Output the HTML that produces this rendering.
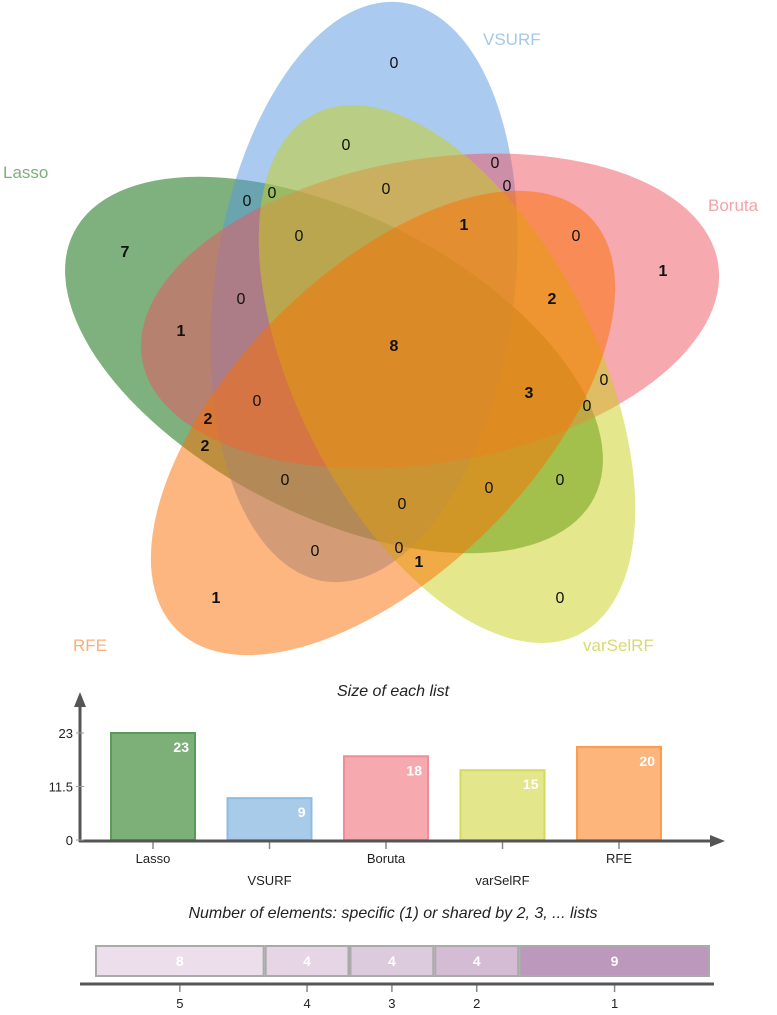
<!DOCTYPE html>
<html><head><meta charset="utf-8"><style>
body{margin:0;background:#fff;}
svg{display:block;font-family:"Liberation Sans",sans-serif;}
</style></head><body>
<svg width="777" height="1015" viewBox="0 0 777 1015">
<g id="venn">
  <ellipse cx="334" cy="365" rx="292" ry="150" transform="rotate(27 334 365)" fill="rgb(0,100,0)" fill-opacity="0.5"/>
  <ellipse cx="364" cy="292" rx="150" ry="292" transform="rotate(7.5 364 292)" fill="rgb(85,151,223)" fill-opacity="0.5"/>
  <ellipse cx="430" cy="311" rx="292" ry="152" transform="rotate(-9.5 430 311)" fill="rgb(237,83,95)" fill-opacity="0.5"/>
  <ellipse cx="447" cy="374" rx="150" ry="292" transform="rotate(-27 447 374)" fill="rgb(201,207,25)" fill-opacity="0.5"/>
  <ellipse cx="383" cy="423" rx="292" ry="150" transform="rotate(-45 383 423)" fill="rgb(251,110,0)" fill-opacity="0.5"/>
  <g font-size="17">
    <text x="3" y="178" fill="#7bb07a">Lasso</text>
    <text x="483" y="45" fill="#a5c8e8">VSURF</text>
    <text x="708" y="211" fill="#f3a3aa">Boruta</text>
    <text x="73" y="651" fill="#fcae74">RFE</text>
    <text x="583" y="651" fill="#d8db70">varSelRF</text>
  </g>
  <g id="counts" font-size="16" text-anchor="middle" fill="#111"></g>
</g>

<g>
  <text x="393" y="696" font-size="16" font-style="italic" text-anchor="middle" fill="#222">Size of each list</text>
  <g id="bars"></g>
  <line x1="80" y1="842" x2="80" y2="705" stroke="#555" stroke-width="3"/>
  <polygon points="74,707 86,707 80,692" fill="#555"/>
  <line x1="79" y1="841" x2="712" y2="841" stroke="#555" stroke-width="3"/>
  <polygon points="710,835 710,847 725,841" fill="#555"/>
  <g id="yticks" font-size="13" text-anchor="end" fill="#222"></g>
</g>

<g>
  <text x="393" y="918" font-size="16" font-style="italic" text-anchor="middle" fill="#222">Number of elements: specific (1) or shared by 2, 3, ... lists</text>
  <g id="segs"></g>
  <line x1="80" y1="984" x2="714" y2="984" stroke="#555" stroke-width="3"/>
</g>
</svg>
<script>
const NS='http://www.w3.org/2000/svg';
// Venn region counts
const regionLabels=['0','0','0','0','0','0','0','1','0','0','7','1','2','0','1','8','0','3','0','0','2','2','0','0','0','0','0','0','1','1','0'];
const regionBold=[0,0,0,0,0,0,0,1,0,0,1,1,1,0,1,1,0,1,0,0,1,1,0,0,0,0,0,0,1,1,0];
const regionX=[394,346,495,507,386,272,247,464,299,576,125,663,552,241,181,394,604,529,587,257,208,205,285,560,489,402,315,399,419,216,560];
const regionY=[62,144,162,185,188,192,200,224,235,235,251,270,298,298,330,345,379,392,405,400,418,445,479,479,487,503,550,547,561,597,597];
const cg=document.getElementById('counts');
for(let i=0;i<regionLabels.length;i++){
  const t=document.createElementNS(NS,'text');
  
  
  t.setAttribute('x',regionX[i]);t.setAttribute('y',regionY[i]+6);
  if(regionBold[i])t.setAttribute('font-weight','bold');
  t.textContent=regionLabels[i];cg.appendChild(t);
}
// Bar chart data
const categories=['Lasso','VSURF','Boruta','varSelRF','RFE'];
const sizes=[23,9,18,15,20];
const yTicks=[0,11.5,23];
const yTickLabels=['0','11.5','23'];
const fills=['#7daf79','#a8cbe9','#f6a9ae','#e4e68c','#fdb57b'];
const strokes=['#5a9c57','#8cbbe4','#f08d95','#d5d95c','#fb9c50'];
const y=v=>840-v*(107/23);
const xc=i=>153+i*116.5;
const bg=document.getElementById('bars');
categories.forEach((c,i)=>{
  const r=document.createElementNS(NS,'rect');
  
  
  r.setAttribute('x',xc(i)-42);r.setAttribute('width',84);
  r.setAttribute('y',y(sizes[i]));r.setAttribute('height',840-y(sizes[i]));
  r.setAttribute('fill',fills[i]);r.setAttribute('stroke',strokes[i]);r.setAttribute('stroke-width',2);
  bg.appendChild(r);
  const v=document.createElementNS(NS,'text');
  
  
  v.setAttribute('x',xc(i)+36);v.setAttribute('y',y(sizes[i])+19);
  v.setAttribute('text-anchor','end');v.setAttribute('fill','#fff');v.setAttribute('font-size','14');v.setAttribute('font-weight','bold');
  v.textContent=sizes[i];bg.appendChild(v);
  const tk=document.createElementNS(NS,'line');
  
  
  tk.setAttribute('x1',xc(i));tk.setAttribute('x2',xc(i));tk.setAttribute('y1',842);tk.setAttribute('y2',849);
  tk.setAttribute('stroke','#888');tk.setAttribute('stroke-width',1.5);bg.appendChild(tk);
  const l=document.createElementNS(NS,'text');
  
  
  l.setAttribute('x',xc(i));l.setAttribute('y',i%2?885:863);
  l.setAttribute('text-anchor','middle');l.setAttribute('font-size','13');l.setAttribute('fill','#222');
  l.textContent=c;bg.appendChild(l);
});
const yt=document.getElementById('yticks');
yTicks.forEach((t,i)=>{
  const l=document.createElementNS(NS,'text');
  
  
  l.setAttribute('x',73);l.setAttribute('y',y(t)+5);l.textContent=yTickLabels[i];yt.appendChild(l);
  const k=document.createElementNS(NS,'line');
  
  
  k.setAttribute('x1',76);k.setAttribute('x2',84);k.setAttribute('y1',y(t));k.setAttribute('y2',y(t));
  k.setAttribute('stroke','#999');yt.appendChild(k);
});
// Shared counts
const sharedLabels=['5','4','3','2','1'];
const sharedCounts=[8,4,4,4,9];
const segFills=['#ecdfeb','#e5d5e5','#dccbdc','#d4bdd4','#bc98bd'];
const sg=document.getElementById('segs');
const unit=615/sharedCounts.reduce((a,b)=>a+b,0);
let sx=95;
sharedCounts.forEach((n,i)=>{
  const w=n*unit;
  const r=document.createElementNS(NS,'rect');
  
  
  r.setAttribute('x',sx+1);r.setAttribute('y',946);r.setAttribute('width',w-2);r.setAttribute('height',30);
  r.setAttribute('fill',segFills[i]);r.setAttribute('stroke','#aaa');r.setAttribute('stroke-width',2);
  sg.appendChild(r);
  const cx=sx+w/2;
  const t=document.createElementNS(NS,'text');
  
  
  t.setAttribute('x',cx);t.setAttribute('y',966);t.setAttribute('text-anchor','middle');
  t.setAttribute('fill','#fff');t.setAttribute('font-size','14');t.setAttribute('font-weight','bold');
  t.textContent=n;sg.appendChild(t);
  const k=document.createElementNS(NS,'line');
  
  
  k.setAttribute('x1',cx);k.setAttribute('x2',cx);k.setAttribute('y1',985);k.setAttribute('y2',992);
  k.setAttribute('stroke','#888');k.setAttribute('stroke-width',1.5);sg.appendChild(k);
  const l=document.createElementNS(NS,'text');
  
  
  l.setAttribute('x',cx);l.setAttribute('y',1008);l.setAttribute('text-anchor','middle');
  l.setAttribute('font-size','13');l.setAttribute('fill','#222');
  l.textContent=sharedLabels[i];sg.appendChild(l);
  sx+=w;
});
</script>
</body></html>
